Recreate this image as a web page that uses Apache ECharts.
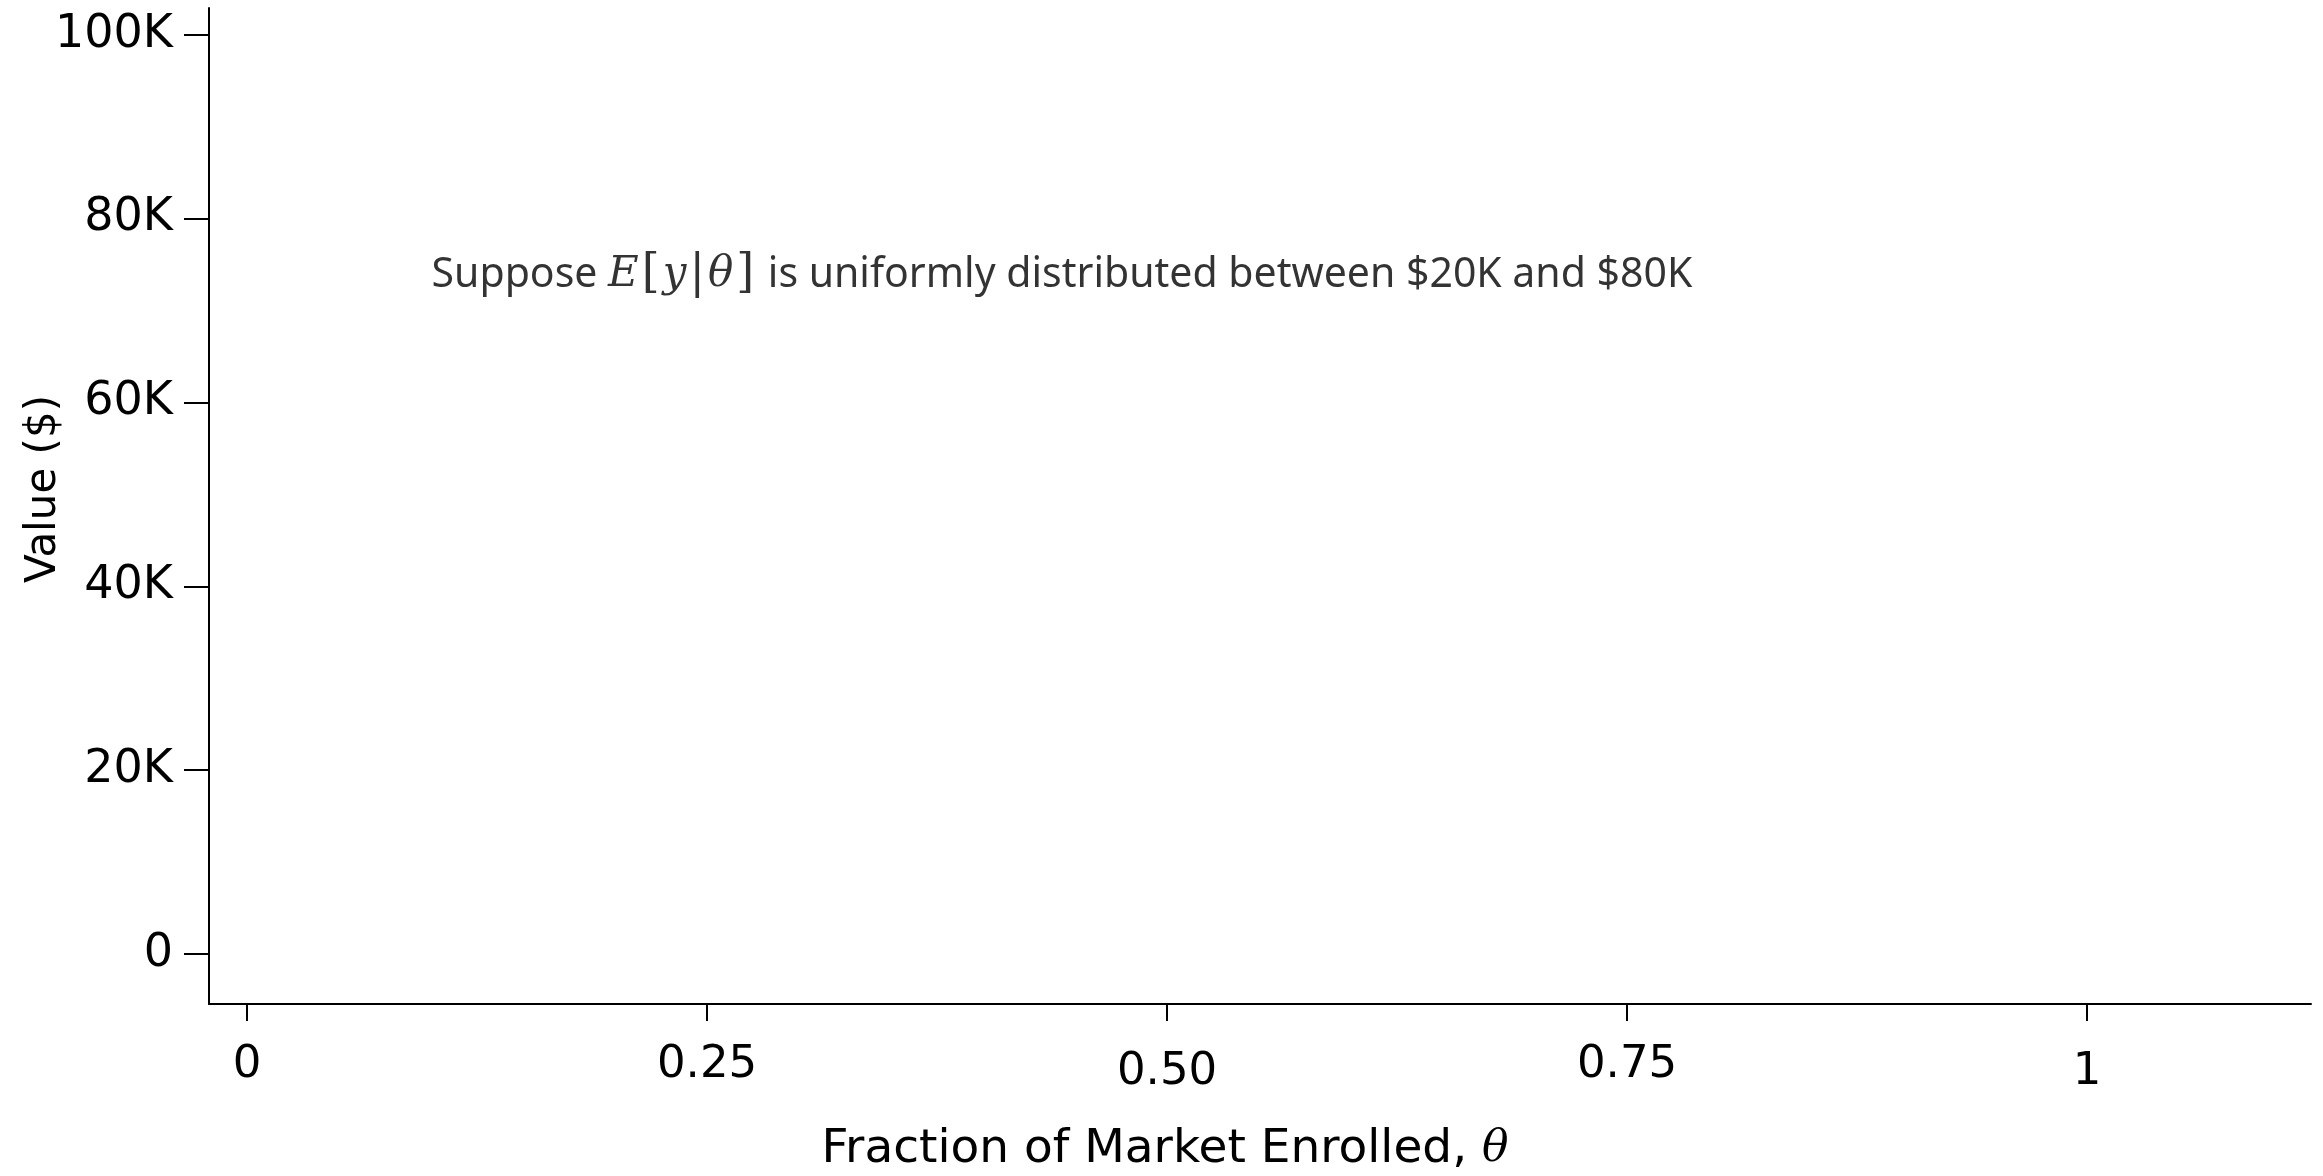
<!DOCTYPE html>
<html>
<head>
<meta charset="utf-8">
<script src="https://cdn.jsdelivr.net/npm/echarts@6/dist/echarts.min.js"></script>
<style>
html,body{margin:0;padding:0;background:#fff;}
#chart{width:2323px;height:1176px;}
</style>
</head>
<body>
<div id="chart"></div>
<script>
// ---- data ----
const xTicks = [0, 0.25, 0.5, 0.75, 1];
const xTickLabels = ['0', '0.25', '0.50', '0.75', '1'];
const xLowered = ['0.50', '1'];
const yTicks = [0, 20000, 40000, 60000, 80000, 100000];
const yTickLabels = ['0', '20K', '40K', '60K', '80K', '100K'];
const annotationPos = [0.1, 73800];
const annotationBefore = 'Suppose ';
const annotationMath = [['i', 'E'], ['u', '['], ['i', 'y'], ['u', '|'], ['i', 'θ'], ['u', ']']];
const annotationAfter = ' is uniformly distributed between $20K and $80K';
const xTitle = 'Fraction of Market Enrolled, ';
const xTitleSym = 'θ';
const yTitle = 'Value ($)';

const axisFont = 'DejaVu Sans';
const chart = echarts.init(document.getElementById('chart'), null, {renderer: 'canvas'});
const mathStr = annotationMath.map(p => '{' + p[0] + '|' + p[1] + '}').join('');
const option = {
  animation: false,
  backgroundColor: '#fff',
  grid: {left: 209, top: 8, right: 12, bottom: 172, containLabel: false, outerBoundsMode: 'none'},
  xAxis: {
    type: 'value',
    min: -0.0207, max: 1.1217,
    axisLine: {show: true, onZero: false, lineStyle: {color: '#000', width: 2}},
    axisTick: {show: true, length: 17, lineStyle: {color: '#000', width: 2}, customValues: xTicks},
    axisLabel: {
      customValues: xTicks,
      margin: 61,
      verticalAlign: 'middle',
      fontFamily: axisFont, fontSize: 45, color: '#000',
      formatter: function (v) {
        const i = xTicks.indexOf(v);
        const s = i >= 0 ? xTickLabels[i] : '';
        return xLowered.indexOf(s) >= 0 ? '{lo|' + s + '}' : '{n|' + s + '}';
      },
      rich: {
        n: {fontFamily: axisFont, fontSize: 45, color: '#000'},
        lo: {fontFamily: axisFont, fontSize: 45, color: '#000', padding: [14, 0, 0, 0]}
      }
    },
    splitLine: {show: false},
    name: '{n|' + xTitle + '}{t|' + xTitleSym + '}',
    nameLocation: 'middle',
    nameGap: 146,
    nameMoveOverlap: false,
    nameTextStyle: {
      verticalAlign: 'middle',
      padding: [0, 190, 0, 0],
      rich: {
        n: {fontFamily: axisFont, fontSize: 47, color: '#000'},
        t: {fontFamily: 'DejaVu Serif', fontStyle: 'italic', fontSize: 44, color: '#000'}
      }
    }
  },
  yAxis: {
    type: 'value',
    min: -5440, max: 102900,
    axisLine: {show: true, onZero: false, lineStyle: {color: '#000', width: 2}},
    axisTick: {show: true, length: 25, lineStyle: {color: '#000', width: 2}, customValues: yTicks},
    axisLabel: {
      customValues: yTicks,
      margin: 36,
      fontFamily: axisFont, fontSize: 46, color: '#000',
      formatter: function (v) {
        const i = yTicks.indexOf(v);
        return i >= 0 ? yTickLabels[i] : '';
      }
    },
    splitLine: {show: false},
    name: yTitle,
    nameLocation: 'middle',
    nameGap: 165,
    nameRotate: 90,
    nameMoveOverlap: false,
    nameTextStyle: {fontFamily: axisFont, fontSize: 42, color: '#000', verticalAlign: 'middle', padding: [0, 0, 0, 34]}
  },
  series: [{
    type: 'scatter',
    symbol: 'circle',
    symbolSize: 1,
    itemStyle: {color: 'rgba(0,0,0,0)'},
    silent: true,
    data: [annotationPos],
    label: {
      show: true,
      position: 'right',
      distance: 0,
      color: '#000',
      formatter: '{a|' + annotationBefore + '}' + mathStr + '{a|' + annotationAfter + '}',
      rich: {
        a: {fontFamily: 'Noto Sans', fontSize: 41, color: '#000'},
        i: {fontFamily: 'DejaVu Serif', fontStyle: 'italic', fontSize: 42, color: '#000'},
        u: {fontFamily: 'DejaVu Serif', fontSize: 46, color: '#000', padding: [0, 3, 0, 3]}
      }
    }
  }]
};
chart.setOption(option);
</script>
</body>
</html>
